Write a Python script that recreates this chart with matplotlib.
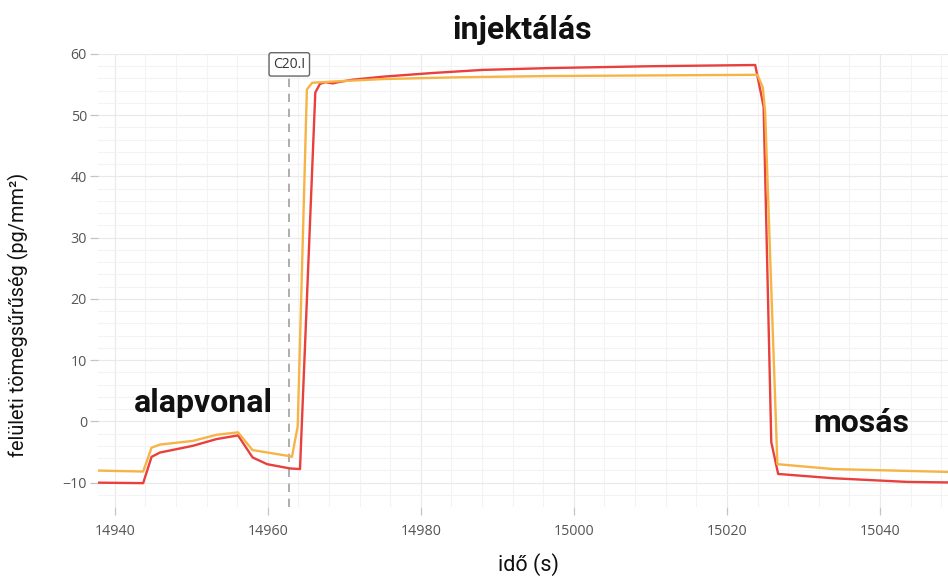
import matplotlib
matplotlib.use("Agg")
import matplotlib.pyplot as plt
from matplotlib.ticker import MultipleLocator

# Sensor traces: time (s) and surface mass density (pg/mm^2)
t_red = [14936.0, 14943.7, 14944.8, 14945.9, 14950.2, 14953.3, 14956.1, 14958.0,
         14959.9, 14962.9, 14964.2, 14966.2, 14966.8, 14967.5, 14968.5, 14969.2,
         14971.1, 14975.1, 14981.6, 14988.1, 14996.9, 15010.0, 15023.7, 15024.8,
         15025.8, 15026.7, 15033.9, 15043.6, 15050.0]
y_red = [-10.0, -10.1, -5.8, -5.1, -4.0, -2.9, -2.3, -5.9,
         -7.0, -7.7, -7.8, 53.7, 55.1, 55.4, 55.2, 55.4,
         55.8, 56.3, 56.9, 57.4, 57.7, 58.0, 58.2, 51.4,
         -3.4, -8.6, -9.3, -9.9, -10.0]

t_orange = [14936.0, 14943.7, 14944.8, 14945.9, 14950.2, 14953.3, 14956.1, 14958.0,
            14962.9, 14963.15, 14963.9, 14965.1, 14965.8, 14968.5, 14975.0, 14985.0,
            14996.9, 15024.0, 15024.7, 15025.0, 15026.6, 15033.9, 15050.0]
y_orange = [-8.0, -8.2, -4.3, -3.8, -3.2, -2.2, -1.8, -4.7,
            -5.7, -5.8, -0.8, 54.2, 55.3, 55.5, 55.9, 56.2,
            56.4, 56.6, 54.5, 50.5, -7.0, -7.8, -8.3]

marker_t = 14962.8
marker_label = "C20.I"

x_ticks = [14940, 14960, 14980, 15000, 15020, 15040]
y_ticks = [-10, 0, 10, 20, 30, 40, 50, 60]

plt.rcParams['font.family'] = ['Roboto', 'DejaVu Sans']

fig = plt.figure(figsize=(9.48, 5.78), dpi=100)
ax = fig.add_axes([0.1034, 0.1228, 0.8966, 0.7838])

ax.plot(t_red, y_red, color="#E8403C", lw=1.7, zorder=4)
ax.plot(t_orange, y_orange, color="#F7B446", lw=1.7, zorder=5)

ax.axvline(marker_t, ymin=0.0, ymax=0.96, color="#A0A0A0", lw=1.2,
           dashes=(5, 4), zorder=3)
ax.text(marker_t, 58.3, marker_label, ha="center", va="center",
        fontsize=10, family=["Open Sans", "DejaVu Sans"], color="#333333",
        bbox=dict(boxstyle="round,pad=0.3,rounding_size=0.15",
                  fc="white", ec="#666666", lw=1.0), zorder=6)

ax.set_xlim(14937.8, 15048.9)
ax.set_ylim(-14, 60)
ax.set_xticks(x_ticks)
ax.set_yticks(y_ticks)
ax.xaxis.set_minor_locator(MultipleLocator(4))
ax.yaxis.set_minor_locator(MultipleLocator(2))
ax.grid(which="major", color="#E9E9E9", lw=0.8)
ax.grid(which="minor", color="#F3F3F3", lw=0.8)
ax.set_axisbelow(True)
for s in ax.spines.values():
    s.set_visible(False)
ax.tick_params(which="major", length=6, width=0.9, color="#C4C4C4",
               labelsize=10.3, labelcolor="#555555")
ax.tick_params(axis="y", pad=2)
ax.tick_params(axis="x", pad=6)
ax.tick_params(which="minor", length=0)
for lab in ax.get_xticklabels() + ax.get_yticklabels():
    lab.set_family(["Open Sans", "DejaVu Sans"])

fig.text(0.019, 0.455, "felületi tömegsűrűség (pg/mm²)", rotation=90,
         ha="center", va="center", fontsize=14.3, color="#111111")
fig.text(0.557, 0.024, "idő (s)", ha="center", va="center",
         fontsize=15.5, color="#111111")

fig.text(0.551, 0.948, "injektálás", ha="center", va="center",
         fontsize=23, fontweight="bold", color="#111111")
ax.text(14951.6, 3.0, "alapvonal", ha="center", va="center",
        fontsize=23, fontweight="bold", color="#111111")
ax.text(15037.6, -0.2, "mosás", ha="center", va="center",
        fontsize=23, fontweight="bold", color="#111111")

fig.savefig("out.png", dpi=100)
